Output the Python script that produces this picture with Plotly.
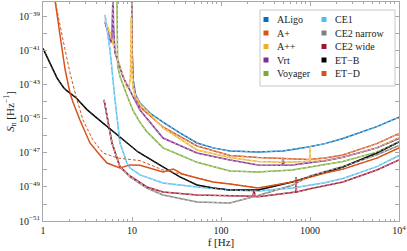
import numpy as np
import plotly.graph_objects as go

# ---------------- data (frequency in Hz, log10 of S_n in Hz^-1) ----------------
aligo_f = [9.9, 10.0, 10.3, 11.0, 12.3, 15.9, 22.3, 34.5, 53.8, 81.5, 126, 261, 497, 953, 1472, 2342, 5635, 10000]
aligo_log10S = [-37.0, -40.6, -42.7, -43.6, -44.06, -44.65, -45.18, -45.82, -46.41, -46.70, -46.88, -46.94, -46.88, -46.65, -46.45, -46.15, -45.45, -44.9]

aplus_f = [9.9, 10.0, 10.3, 11.0, 12.3, 22.3, 53.8, 126, 261, 497, 953, 1472, 2342, 5635, 10000]
aplus_log10S = [-37.0, -40.8, -42.9, -43.8, -44.29, -45.47, -46.59, -47.15, -47.26, -47.3, -47.38, -47.3, -47.12, -46.45, -45.85]

app_f = [4.97, 5.66, 6.78, 7.93, 8.77, 9.24, 9.6, 9.75, 9.95, 10.26, 11.0, 12.3, 22.3, 53.8, 126, 261, 497, 950, 990, 1000, 1010, 1050, 1472, 2342, 5635, 10000]
app_log10S = [-39.18, -39.94, -41.35, -42.53, -43.15, -43.1, -42.6, -39.0, -42.0, -43.2, -43.7, -44.1, -45.53, -46.82, -47.26, -47.5, -47.55, -47.5, -47.5, -46.6, -47.5, -47.5, -47.45, -47.25, -46.7, -46.1]

vrt_f = [4.97, 5.4, 5.81, 5.95, 6.05, 6.12, 6.2, 6.44, 7.93, 10.26, 12.3, 22.3, 53.8, 126, 261, 485, 497, 510, 630, 1472, 2342, 5635, 10000]
vrt_log10S = [-39.3, -40.0, -40.53, -40.2, -39.0, -37.5, -39.5, -41.1, -42.53, -43.71, -44.47, -46.12, -47.0, -47.41, -47.71, -47.72, -47.29, -47.72, -47.7, -47.45, -47.25, -46.7, -46.15]

voy_f = [6.75, 6.8, 6.9, 7.33, 7.93, 8.77, 10.26, 12.3, 14.7, 22.3, 34.5, 53.8, 126, 261, 630, 1472, 2342, 5635, 10000]
voy_log10S = [-37.0, -40.5, -41.9, -42.5, -43.0, -43.6, -44.5, -45.2, -45.75, -46.7, -47.12, -47.55, -48.06, -48.12, -48.0, -47.7, -47.5, -46.95, -46.35]

ce1_f = [4.97, 5.66, 6.44, 6.96, 7.33, 8.77, 9.48, 12.3, 22.3, 53.8, 126, 261, 630, 1472, 2342, 5635, 10000]
ce1_log10S = [-38.88, -40.94, -43.88, -45.65, -46.41, -47.59, -47.88, -48.29, -48.76, -49.0, -49.18, -49.24, -49.06, -48.75, -48.5, -47.8, -47.15]

ce2n_f = [4.85, 5.38, 5.96, 7.33, 9.48, 14.7, 22.3, 53.8, 126, 261, 630, 1000, 1472, 2342, 5635, 10000]
ce2n_log10S = [-43.88, -45.06, -46.41, -47.82, -48.41, -49.06, -49.47, -49.88, -49.94, -49.5, -48.9, -48.35, -48.1, -47.8, -47.1, -46.55]

ce2w_f = [4.85, 5.38, 5.96, 7.33, 9.48, 14.7, 22.3, 53.8, 126, 228, 235, 242, 261, 630, 690, 697, 704, 1000, 2342, 5635, 10000]
ce2w_log10S = [-43.88, -45.06, -46.41, -47.82, -48.35, -49.0, -49.29, -49.47, -49.5, -49.55, -49.18, -49.56, -49.57, -49.35, -49.3, -48.41, -49.3, -49.1, -48.71, -48.0, -47.41]

etb_f = [1.0, 1.2, 1.44, 1.7, 1.86, 2.35, 3.12, 4.04, 6.0, 11.7, 22.3, 34.5, 53.8, 81.5, 126, 261, 630, 1000, 1472, 2342, 5635, 10000]
etb_log10S = [-40.85, -41.75, -42.6, -43.15, -43.35, -43.75, -44.45, -44.95, -45.7, -46.94, -47.82, -48.41, -48.88, -49.06, -49.18, -49.18, -48.71, -48.41, -48.12, -47.82, -47.0, -46.35]

etd_f = [1.3, 1.364, 1.553, 1.767, 2.01, 2.17, 2.6, 3.37, 4.4, 5.24, 7.33, 9.48, 12.3, 14.7, 22.3, 26.7, 29, 32, 36, 53.8, 81.5, 126, 261, 630, 1000, 1472, 2342, 5635, 10000]
etd_log10S = [-37.0, -38.0, -40.06, -42.06, -43.47, -44.0, -45.06, -46.41, -47.15, -47.59, -47.88, -47.7, -47.72, -47.85, -48.12, -48.0, -47.95, -48.05, -48.22, -48.47, -48.71, -48.82, -49.06, -48.71, -48.41, -48.18, -47.95, -47.3, -46.7]

# fitted (dashed) approximation for ET-D at low frequency
etd_fit_f = [1.33, 1.364, 1.678, 2.01, 2.41, 2.815, 3.6, 4.72, 7.0, 12.3, 22.3, 53.8, 81.5, 126, 261, 630, 1000, 1472, 2342, 5635, 10000]
etd_fit_log10S = [-37.0, -38.0, -40.35, -42.29, -43.88, -45.06, -46.2, -47.0, -47.3, -47.45, -48.0, -48.45, -48.71, -48.82, -49.06, -48.71, -48.41, -48.18, -47.95, -47.3, -46.7]

legend_labels = ["ALigo", "A+", "A++", "Vrt", "Voyager", "CE1", "CE2 narrow", "CE2 wide", "ET\u2212B", "ET\u2212D"]
series_f = [aligo_f, aplus_f, app_f, vrt_f, voy_f, ce1_f, ce2n_f, ce2w_f, etb_f, etd_f]
series_log10S = [aligo_log10S, aplus_log10S, app_log10S, vrt_log10S, voy_log10S, ce1_log10S,
                 ce2n_log10S, ce2w_log10S, etb_log10S, etd_log10S]
colors = ["#0072BD", "#D95319", "#EDB120", "#7E2F8E", "#77AC30", "#4DBEEE",
          "#7F7F7F", "#A2142F", "#000000", "#D95319"]

x_tickvals = [1, 10, 100, 1000, 10000]
x_ticktext = ["1", "10", "100", "1000", "10<sup>4</sup>"]
y_label_exps = [-51, -49, -47, -45, -43, -41, -39]
y_minor_exps = [-50, -48, -46, -44, -42, -40, -38]


def tint(hexcol, amt):
    r, g, b = int(hexcol[1:3], 16), int(hexcol[3:5], 16), int(hexcol[5:7], 16)
    r = int(r + (255 - r) * amt); g = int(g + (255 - g) * amt); b = int(b + (255 - b) * amt)
    return f"rgb({r},{g},{b})"


fig = go.Figure()
for name, f, ls, c in zip(legend_labels, series_f, series_log10S, colors):
    fig.add_trace(go.Scatter(x=f, y=10 ** np.array(ls), mode="lines", name=name,
                             line=dict(color=c, width=1.5), showlegend=False))
for name, f, ls, c in zip(legend_labels, series_f, series_log10S, colors):
    if name == "ET\u2212D":
        f, ls = etd_fit_f, etd_fit_log10S
        dcol = c
    elif name == "ET\u2212B":
        dcol = "#333333"
    else:
        dcol = tint(c, 0.55)
    fig.add_trace(go.Scatter(x=f, y=10 ** np.array(ls), mode="lines", name=name + " fit",
                             line=dict(color=dcol, width=1.0, dash="3px,2px"), showlegend=False))

FONT = "Liberation Serif"
L, R, T, B = 43, 8, 2, 30
W, H = 407, 251
pw, ph = W - L - R, H - T - B
GRAY = "#a8a8a8"

axis_common = dict(showline=True, linecolor=GRAY, linewidth=1, mirror="ticks",
                   ticks="inside", tickcolor=GRAY, showgrid=False, zeroline=False,
                   tickfont=dict(family=FONT, size=10, color="#222"))

fig.update_xaxes(type="log", range=[0, 4], tickmode="array", tickvals=x_tickvals,
                 ticktext=x_ticktext, ticklen=4,
                 minor=dict(tickmode="array",
                            tickvals=[m * 10 ** k for k in range(4) for m in range(2, 10)],
                            ticks="inside", ticklen=2, tickcolor=GRAY),
                 title=dict(text="f [Hz]", font=dict(family=FONT, size=11, color="#222"), standoff=0),
                 **axis_common)
fig.update_yaxes(type="log", range=[-51, -38.12], tickmode="array",
                 tickvals=[10.0 ** e for e in y_label_exps],
                 ticktext=["10<sup>\u2212%d</sup>" % (-e) for e in y_label_exps],
                 ticklen=4,
                 minor=dict(tickmode="array", tickvals=[10.0 ** e for e in y_minor_exps],
                            ticks="inside", ticklen=4, tickcolor=GRAY),
                 title=dict(text="<i>S</i><sub>n</sub> [Hz<sup>\u22121</sup>]",
                            font=dict(family=FONT, size=11, color="#222"), standoff=2),
                 **axis_common)

# legend box (two columns of five)
def px_to_paper(px, py):
    return (px - L) / pw, 1 - (py - T) / ph

x0, y1 = px_to_paper(260, 10)
x1, y0 = px_to_paper(395, 86)
shapes = [dict(type="rect", xref="paper", yref="paper", x0=x0, x1=x1, y0=y0, y1=y1,
               line=dict(color="#c8c8c8", width=1), fillcolor="white", layer="above")]
annotations = []
for i, (lab, c) in enumerate(zip(legend_labels, colors)):
    col, row = i // 5, i % 5
    py = 19.5 + row * 13.5
    sx = 266 + col * 58
    qx0, qy1 = px_to_paper(sx - 2.5, py - 2.5)
    qx1, qy0 = px_to_paper(sx + 2.5, py + 2.5)
    shapes.append(dict(type="rect", xref="paper", yref="paper", x0=qx0, x1=qx1, y0=qy0, y1=qy1,
                       line=dict(width=0), fillcolor=c, layer="above"))
    tx, ty = px_to_paper(sx + 9, py)
    annotations.append(dict(xref="paper", yref="paper", x=tx, y=ty, xanchor="left",
                            yanchor="middle", showarrow=False, text=lab,
                            font=dict(family=FONT, size=10, color="#222")))

fig.update_layout(width=W, height=H, margin=dict(l=L, r=R, t=T, b=B),
                  paper_bgcolor="white", plot_bgcolor="white",
                  shapes=shapes, annotations=annotations, showlegend=False)

fig.write_html("out.html", config={"displayModeBar": False},
               post_script="document.body.style.margin='0';document.body.style.overflow='hidden';")
